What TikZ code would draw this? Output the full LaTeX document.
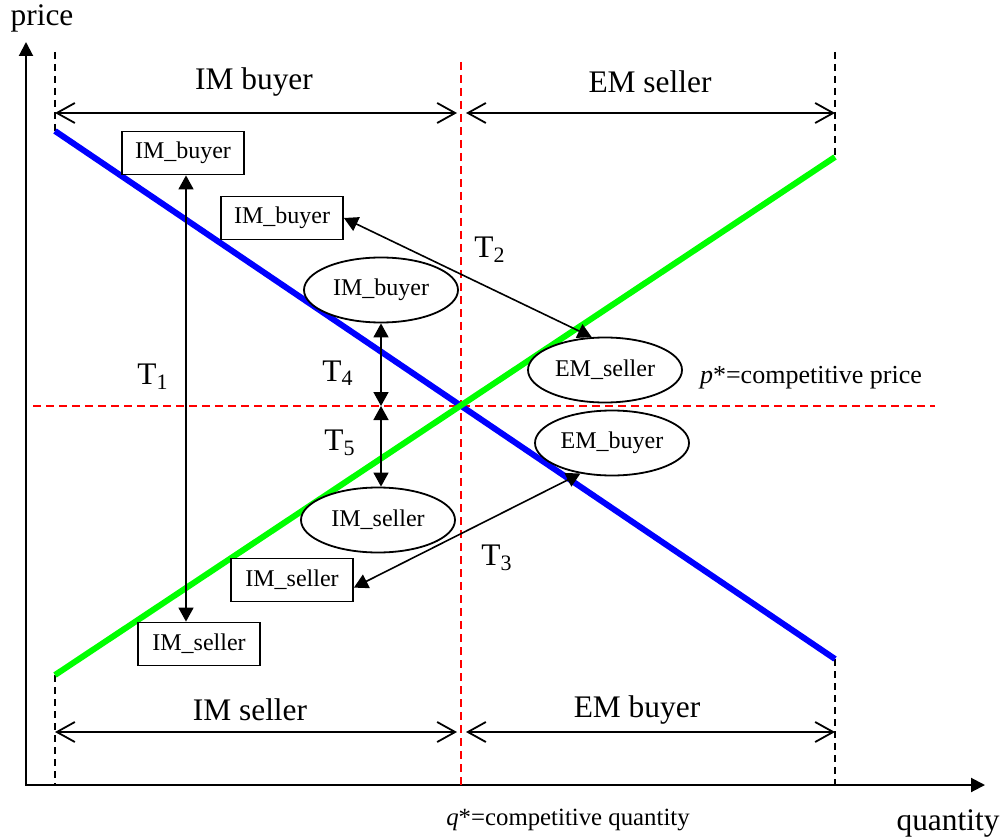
\documentclass[tikz,border=0pt]{standalone}
\usepackage{fontspec}
\setmainfont{Liberation Serif}
\definecolor{mktBlue}{HTML}{0000FF}
\definecolor{mktGreen}{HTML}{00FF00}
\definecolor{mktRed}{HTML}{FF0000}
\usetikzlibrary{arrows.meta, positioning, calc, shapes.geometric}

\begin{document}
\begin{tikzpicture}[x=0.5pt, y=-0.5pt,
  agentbox/.style={draw, fill=white, line width=0.9pt, minimum width=61pt,
    minimum height=21.5pt, inner sep=0pt, font=\fontsize{12}{14}\selectfont},
  agentell/.style={draw, fill=white, ellipse, line width=0.9pt, minimum width=77pt,
    minimum height=32.5pt, inner sep=0pt, font=\fontsize{12}{14}\selectfont},
  biglabel/.style={font=\fontsize{15.7}{18}\selectfont},
  smalllabel/.style={font=\fontsize{12.4}{14}\selectfont},
  axisarr/.style={{Triangle[length=7pt,width=7pt]}-{Triangle[length=7pt,width=7pt]},
    line width=1pt},
  spanarr/.style={{Straight Barb[length=9pt,width=10pt]}-{Straight Barb[length=9pt,width=10pt]},
    line width=0.9pt},
  tradearr/.style={{Triangle[length=7pt,width=7.5pt]}-{Triangle[length=7pt,width=7.5pt]},
    line width=0.8pt},
  guideline/.style={dash pattern=on 3.5pt off 2.5pt, line width=0.9pt},
  eqline/.style={mktRed, dash pattern=on 4pt off 2.5pt, line width=0.6pt},
  mktline/.style={line width=3pt}]

  \useasboundingbox (0,0) rectangle (1005,839);

  % Axes
  \coordinate (O) at (26,785);
  \coordinate (yTip) at (26,42);
  \coordinate (xTip) at (985,785);
  \draw[axisarr] (yTip) -- (O) -- (xTip);
  \node[biglabel] (priceLbl) at (42,18) {price};
  \node[biglabel] (qtyLbl) at (948,823) {quantity};

  % Equilibrium guides
  \coordinate (pstar) at (461,406);
  \draw[eqline] (pstar |- 0,62) -- (pstar |- O);
  \draw[eqline] (33,406) -- (935,406);
  \node[font=\fontsize{13}{15}\selectfont, anchor=east] (pLbl) at (929,378)
    {\textit{p}*=competitive price};
  \node[smalllabel] (qLbl) at (568,820) {\textit{q}*=competitive quantity};

  % Market edges
  \coordinate (dTop) at (55,131);
  \coordinate (dBot) at (835,659);
  \coordinate (sBot) at (55,675);
  \coordinate (sTop) at (835,157);
  \draw[guideline] (55,52) -- (dTop);
  \draw[guideline] (835,52) -- (sTop);
  \draw[guideline] (sBot) -- (sBot |- O);
  \draw[guideline] (dBot) -- (dBot |- O);

  % Demand and supply
  \draw[mktline, mktBlue] (dTop) -- (dBot);
  \draw[mktline, mktGreen] (sBot) -- (sTop);

  % Ranges — top and bottom
  \draw[spanarr] (55,113) -- (457,113);
  \draw[spanarr] (466,113) -- (835,113);
  \draw[spanarr] (55,732) -- (457,732);
  \draw[spanarr] (466,732) -- (835,732);
  \node[biglabel] (imBuyRng) at (254,82) {IM buyer};
  \node[biglabel] (emSellRng) at (650,82) {EM seller};
  \node[biglabel] (imSellRng) at (250,710) {IM seller};
  \node[biglabel] (emBuyRng) at (637,710) {EM buyer};

  % Agents
  \node[agentbox] (imbA) at (183,153) {IM\_buyer};
  \node[agentbox] (imbB) at (282,218) {IM\_buyer};
  \node[agentbox] (imsA) at (199,644) {IM\_seller};
  \node[agentbox] (imsB) at (292,580) {IM\_seller};
  \node[agentell] (imbE) at (381,290) {IM\_buyer};
  \node[agentell] (emsE) at (605,370) {EM\_seller};
  \node[agentell] (embE) at (612,443) {EM\_buyer};
  \node[agentell] (imsE) at (378,520) {IM\_seller};

  % Trades
  \draw[tradearr] ([xshift=1.5pt]imbA.south) -- ([xshift=1.5pt]imbA.south |- imsA.north);
  \draw[tradearr] (imbB.east) -- (emsE.112);
  \draw[tradearr] (imsB.-7) -- (embE.224);
  \draw[tradearr] (imbE.south) -- (imbE.south |- pstar);
  \draw[tradearr] (imbE.south |- pstar) -- (imbE.south |- imsE.north);
  \node[biglabel] (t1) at (153,377) {T\textsubscript{1}};
  \node[biglabel] (t2) at (490,250) {T\textsubscript{2}};
  \node[biglabel] (t3) at (497,558) {T\textsubscript{3}};
  \node[biglabel] (t4) at (338,373) {T\textsubscript{4}};
  \node[biglabel] (t5) at (340,443) {T\textsubscript{5}};
\end{tikzpicture}
\end{document}
